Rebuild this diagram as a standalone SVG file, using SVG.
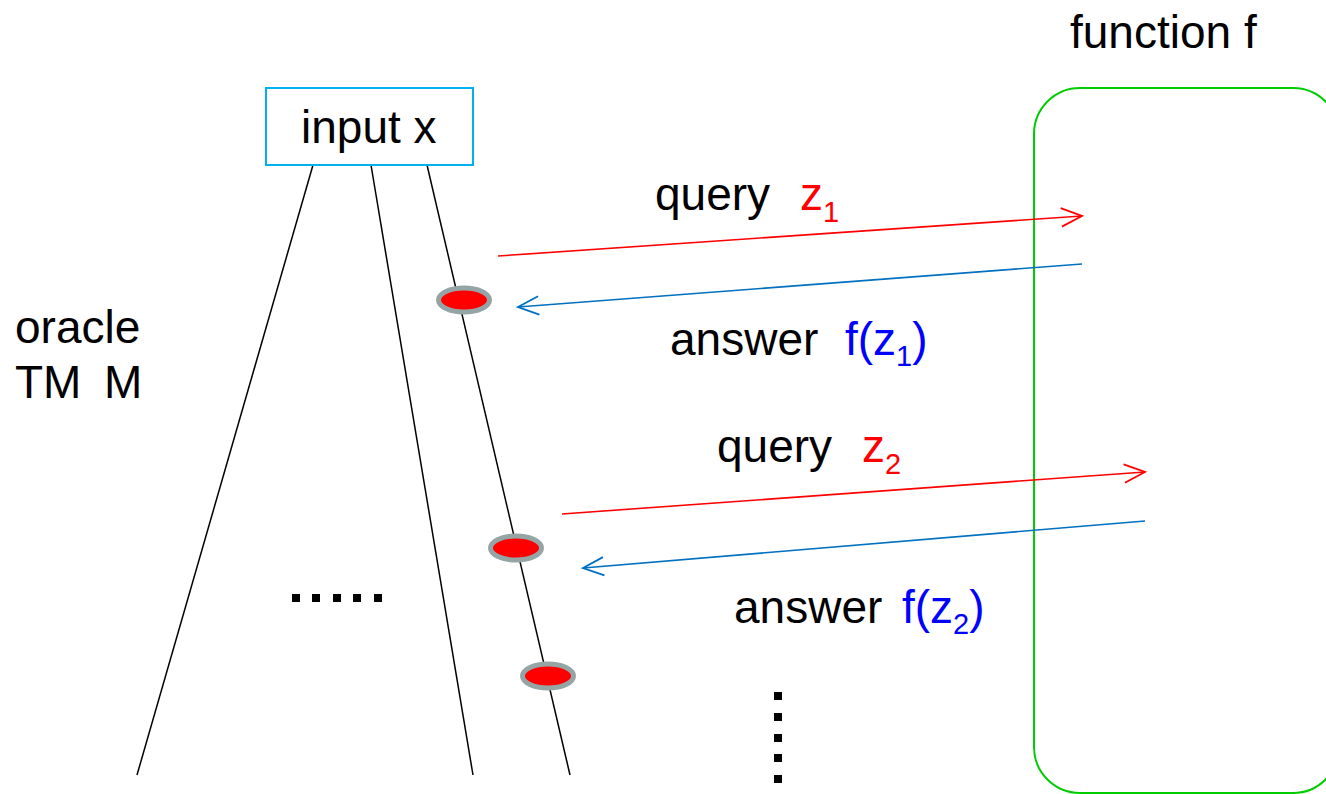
<svg xmlns="http://www.w3.org/2000/svg" width="1326" height="794" viewBox="0 0 1326 794">
<style>
text{font-family:"Liberation Sans",Arial,sans-serif;font-size:46px;fill:#000}
.red{fill:#ff0000}
.blue{fill:#0000ff}
.sub{font-size:29px}
.tl{stroke:#000;stroke-width:1.5;fill:none}
.q{stroke:#ff0000;stroke-width:1.6;fill:none}
.a{stroke:#0070c0;stroke-width:1.6;fill:none}
.dot{fill:red;stroke:#95a5a5;stroke-width:5}
.sq{fill:#000}
</style>
<defs>
<marker id="ahr" markerUnits="userSpaceOnUse" markerWidth="30" markerHeight="30" refX="0" refY="0" viewBox="-22 -12 26 24" orient="auto" overflow="visible">
<path d="M-18,-8 L0,0 L-18,8" fill="none" stroke="#ff0000" stroke-width="1.6"/>
</marker>
<marker id="ahb" markerUnits="userSpaceOnUse" markerWidth="30" markerHeight="30" refX="0" refY="0" viewBox="-22 -12 26 24" orient="auto" overflow="visible">
<path d="M-18,-8 L0,0 L-18,8" fill="none" stroke="#0070c0" stroke-width="1.6"/>
</marker>
</defs>
<rect width="1326" height="794" fill="#fff"/>

<g id="oracle-f">
<rect x="1034" y="88" width="305" height="705" rx="46" ry="46" fill="none" stroke="#00cc00" stroke-width="2"/>
<text x="1070" y="48">function f</text>
</g>

<g id="tm-label">
<text x="15" y="343">oracle</text>
<text x="15" y="398">TM<tspan x="104">M</tspan></text>
</g>

<g id="tree">
<line class="tl" x1="313" y1="165" x2="137" y2="775"/>
<line class="tl" x1="371" y1="165" x2="473" y2="775"/>
<line class="tl" x1="427" y1="165" x2="570" y2="775"/>
</g>

<g id="input">
<rect x="266" y="88" width="207" height="77" fill="#fff" stroke="#00b0f0" stroke-width="2"/>
<text x="301" y="143">input x</text>
</g>

<g id="states">
<ellipse class="dot" cx="464" cy="300" rx="25.5" ry="12"/>
<ellipse class="dot" cx="516" cy="548" rx="25.5" ry="12"/>
<ellipse class="dot" cx="548" cy="676" rx="25.5" ry="12"/>
</g>

<g id="ellipsis">
<rect class="sq" x="292" y="594" width="8" height="8"/>
<rect class="sq" x="312" y="594" width="8" height="8"/>
<rect class="sq" x="333" y="594" width="8" height="8"/>
<rect class="sq" x="353" y="594" width="8" height="8"/>
<rect class="sq" x="374" y="594" width="8" height="8"/>
<rect class="sq" x="774" y="692" width="8" height="8"/>
<rect class="sq" x="774" y="713" width="8" height="8"/>
<rect class="sq" x="774" y="734" width="8" height="8"/>
<rect class="sq" x="774" y="754" width="8" height="8"/>
<rect class="sq" x="774" y="775" width="8" height="8"/>
</g>

<g id="connectors">
<line class="q" x1="498" y1="256" x2="1082" y2="216" marker-end="url(#ahr)"/>
<line class="a" x1="1082" y1="264" x2="518" y2="307" marker-end="url(#ahb)"/>
<line class="q" x1="562" y1="514" x2="1145" y2="472" marker-end="url(#ahr)"/>
<line class="a" x1="1145" y1="521" x2="583" y2="568" marker-end="url(#ahb)"/>
</g>

<g id="labels">
<text x="655" y="210">query<tspan class="red" x="800">z</tspan><tspan class="red sub" dy="12">1</tspan></text>
<text x="670" y="355">answer<tspan class="blue" x="845">f(z</tspan><tspan class="blue sub" dy="11">1</tspan><tspan class="blue" dy="-11">)</tspan></text>
<text x="717" y="462">query<tspan class="red" x="862">z</tspan><tspan class="red sub" dy="12">2</tspan></text>
<text x="734" y="623">answer<tspan class="blue" x="902">f(z</tspan><tspan class="blue sub" dy="11">2</tspan><tspan class="blue" dy="-11">)</tspan></text>
</g>
</svg>
